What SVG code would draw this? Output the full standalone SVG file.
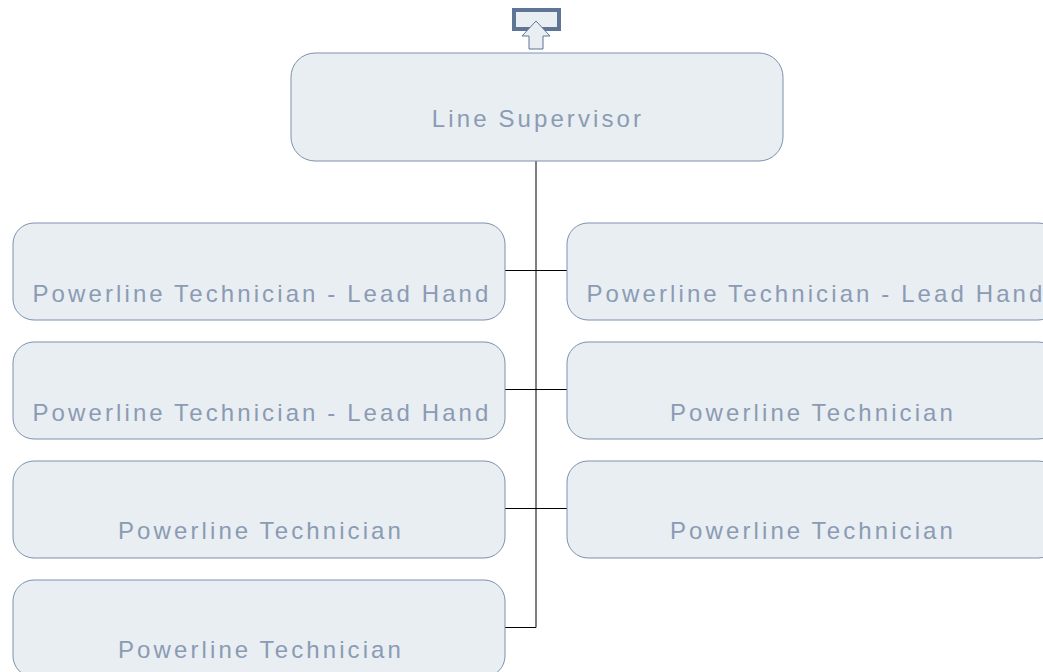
<svg xmlns="http://www.w3.org/2000/svg" width="1043" height="672" viewBox="0 0 1043 672">
<style>
.box{fill:#e9eef2;stroke:#7d91b0;stroke-width:1}
.lbl{font-family:"Liberation Sans",Arial,sans-serif;font-size:24px;letter-spacing:3.1px;word-spacing:-1px;fill:#8b9bb4;text-anchor:middle}
.hl{stroke:#000;stroke-width:1;fill:none}
.vl{stroke:#555;stroke-width:1.5;fill:none}
</style>
<rect width="1043" height="672" fill="#fff"/>
<g id="icon">
<rect x="514" y="10" width="45" height="19" fill="#e9eef2" stroke="#5f7596" stroke-width="4"/>
<polygon points="536,21 550,36 543,36 543,49 529,49 529,36 522,36" fill="#e9eef2" stroke="#5f7596" stroke-width="1"/>
</g>
<g id="connectors">
<line class="vl" x1="536" y1="161" x2="536" y2="627.5"/>
<line class="hl" x1="505" y1="270.5" x2="567" y2="270.5"/>
<line class="hl" x1="505" y1="389.5" x2="567" y2="389.5"/>
<line class="hl" x1="505" y1="508.5" x2="567" y2="508.5"/>
<line class="hl" x1="505" y1="627.5" x2="536" y2="627.5"/>
</g>
<g id="n0"><rect class="box" x="291" y="53" width="492" height="108" rx="24"/><text class="lbl" x="538" y="127">Line Supervisor</text></g>
<g id="n1"><rect class="box" x="13" y="223" width="492" height="97" rx="21"/><text class="lbl" x="262" y="302">Powerline Technician - Lead Hand</text></g>
<g id="n2"><rect class="box" x="567" y="223" width="492" height="97" rx="21"/><text class="lbl" x="816" y="302">Powerline Technician - Lead Hand</text></g>
<g id="n3"><rect class="box" x="13" y="342" width="492" height="97" rx="21"/><text class="lbl" x="262" y="420.5">Powerline Technician - Lead Hand</text></g>
<g id="n4"><rect class="box" x="567" y="342" width="492" height="97" rx="21"/><text class="lbl" x="813" y="420.5">Powerline Technician</text></g>
<g id="n5"><rect class="box" x="13" y="461" width="492" height="97" rx="21"/><text class="lbl" x="261" y="539">Powerline Technician</text></g>
<g id="n6"><rect class="box" x="567" y="461" width="492" height="97" rx="21"/><text class="lbl" x="813" y="539">Powerline Technician</text></g>
<g id="n7"><rect class="box" x="13" y="580" width="492" height="97" rx="21"/><text class="lbl" x="261" y="657.5">Powerline Technician</text></g>
</svg>
